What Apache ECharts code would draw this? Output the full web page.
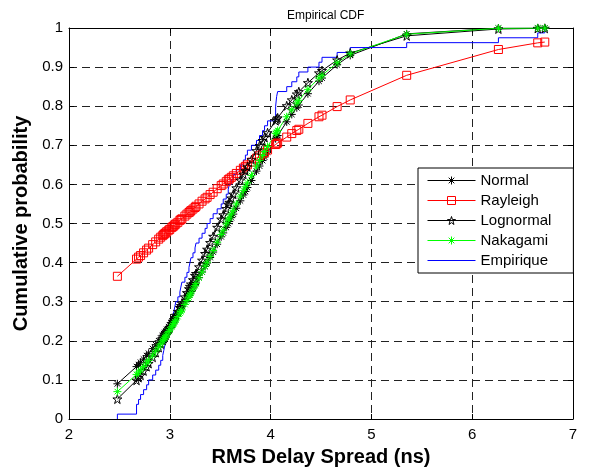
<!DOCTYPE html>
<html>
<head>
<meta charset="utf-8">
<script src="https://cdn.jsdelivr.net/npm/echarts@6/dist/echarts.min.js"></script>
<style>
  html, body { margin: 0; padding: 0; background: #fff; }
  #chart { width: 591px; height: 472px; }
</style>
</head>
<body>
<div id="chart"></div>
<script>
// sorted RMS delay spread samples (ns)
const sampleX = [2.48, 2.67, 2.69, 2.71, 2.74, 2.77, 2.79, 2.83, 2.86, 2.89,
  2.91, 2.93, 2.94, 2.95, 2.96, 2.97, 2.99, 3.00, 3.02, 3.03,
  3.04, 3.05, 3.06, 3.08, 3.10, 3.11, 3.12, 3.15, 3.17, 3.19,
  3.20, 3.21, 3.23, 3.25, 3.26, 3.29, 3.32, 3.35, 3.37, 3.40,
  3.43, 3.47, 3.51, 3.53, 3.56, 3.58, 3.59, 3.61, 3.63, 3.66,
  3.70, 3.73, 3.75, 3.77, 3.81, 3.86, 3.89, 3.92, 3.94, 3.97,
  4.05, 4.06, 4.07, 4.16, 4.21, 4.26, 4.28, 4.37, 4.48, 4.51,
  4.66, 4.79, 5.35, 6.26, 6.65, 6.72];

const empiricalY = [0.0125, 0.0375, 0.05, 0.0625, 0.075, 0.0875, 0.1, 0.1125, 0.125, 0.1375,
  0.15, 0.1625, 0.175, 0.1875, 0.2, 0.2125, 0.225, 0.2375, 0.25, 0.2625,
  0.275, 0.2875, 0.3, 0.3125, 0.325, 0.3375, 0.35, 0.3625, 0.375, 0.3875,
  0.4, 0.4125, 0.425, 0.4375, 0.45, 0.4625, 0.475, 0.4875, 0.5, 0.5125,
  0.525, 0.5375, 0.55, 0.5625, 0.575, 0.5875, 0.6, 0.6125, 0.625, 0.6375,
  0.65, 0.6625, 0.675, 0.6875, 0.7, 0.7125, 0.725, 0.7375, 0.75, 0.7625,
  0.8, 0.825, 0.8375, 0.85, 0.8625, 0.875, 0.8875, 0.9, 0.9125, 0.925,
  0.9375, 0.95, 0.9625, 0.975, 0.9875, 1.0];

const normalY = [0.090, 0.134, 0.139, 0.145, 0.153, 0.162, 0.168, 0.180, 0.190, 0.200,
  0.207, 0.214, 0.218, 0.221, 0.225, 0.229, 0.236, 0.240, 0.247, 0.251,
  0.255, 0.259, 0.263, 0.271, 0.279, 0.283, 0.288, 0.300, 0.309, 0.317,
  0.322, 0.326, 0.335, 0.344, 0.348, 0.362, 0.376, 0.390, 0.399, 0.413,
  0.427, 0.447, 0.466, 0.476, 0.490, 0.500, 0.505, 0.515, 0.524, 0.539,
  0.558, 0.573, 0.582, 0.592, 0.610, 0.634, 0.647, 0.661, 0.670, 0.683,
  0.717, 0.721, 0.725, 0.760, 0.779, 0.796, 0.803, 0.832, 0.864, 0.872,
  0.906, 0.930, 0.985, 0.9995, 0.9999, 0.9999];

const rayleighY = [0.365, 0.409, 0.414, 0.418, 0.425, 0.432, 0.437, 0.446, 0.453, 0.460,
  0.465, 0.469, 0.472, 0.474, 0.476, 0.479, 0.483, 0.485, 0.490, 0.492,
  0.494, 0.497, 0.499, 0.503, 0.508, 0.510, 0.512, 0.519, 0.524, 0.528,
  0.530, 0.533, 0.537, 0.541, 0.544, 0.550, 0.557, 0.563, 0.567, 0.574,
  0.580, 0.589, 0.597, 0.601, 0.607, 0.612, 0.614, 0.618, 0.622, 0.628,
  0.636, 0.642, 0.646, 0.650, 0.657, 0.667, 0.673, 0.678, 0.682, 0.688,
  0.702, 0.704, 0.706, 0.721, 0.730, 0.738, 0.741, 0.756, 0.773, 0.777,
  0.799, 0.816, 0.879, 0.945, 0.962, 0.964];

const lognormalY = [0.051, 0.099, 0.106, 0.112, 0.123, 0.134, 0.142, 0.158, 0.170, 0.183,
  0.192, 0.201, 0.206, 0.210, 0.215, 0.220, 0.230, 0.234, 0.244, 0.249,
  0.254, 0.259, 0.265, 0.275, 0.285, 0.290, 0.296, 0.312, 0.323, 0.333,
  0.339, 0.345, 0.356, 0.367, 0.372, 0.389, 0.406, 0.423, 0.434, 0.451,
  0.467, 0.490, 0.511, 0.522, 0.538, 0.549, 0.554, 0.565, 0.575, 0.591,
  0.611, 0.626, 0.635, 0.645, 0.663, 0.686, 0.699, 0.712, 0.720, 0.732,
  0.763, 0.767, 0.770, 0.801, 0.816, 0.831, 0.837, 0.860, 0.885, 0.891,
  0.918, 0.936, 0.980, 0.9975, 0.999, 0.9992];

const nakagamiY = [0.070, 0.114, 0.120, 0.125, 0.134, 0.143, 0.150, 0.163, 0.174, 0.184,
  0.192, 0.200, 0.204, 0.208, 0.212, 0.215, 0.224, 0.228, 0.236, 0.240,
  0.244, 0.249, 0.253, 0.262, 0.271, 0.275, 0.279, 0.293, 0.303, 0.312,
  0.317, 0.322, 0.332, 0.341, 0.346, 0.361, 0.376, 0.391, 0.401, 0.416,
  0.431, 0.452, 0.472, 0.483, 0.499, 0.509, 0.514, 0.524, 0.534, 0.550,
  0.570, 0.584, 0.594, 0.604, 0.623, 0.647, 0.661, 0.674, 0.684, 0.697,
  0.730, 0.734, 0.738, 0.773, 0.791, 0.808, 0.815, 0.843, 0.872, 0.879,
  0.911, 0.934, 0.984, 0.9992, 0.9998, 0.9998];

const FONT = '"Liberation Sans", Arial, Helvetica, sans-serif';

const asterisk = 'path://M5,0L5,10M0,5L10,5M1.5,1.5L8.5,8.5M1.5,8.5L8.5,1.5';
const pentagram = 'path://M5,0L6.123,3.455L9.755,3.455L6.816,5.59L7.939,9.045L5,6.91L2.061,9.045L3.184,5.59L0.245,3.455L3.877,3.455Z';
const clear = 'rgba(0,0,0,0)';

const pairs = (ys) => sampleX.map((x, i) => [x, ys[i]]);

const fitSeries = (name, ys, color, symbol, size) => ({
  name,
  type: 'line',
  data: pairs(ys),
  symbol,
  symbolSize: size,
  showSymbol: true,
  lineStyle: { color, width: 1 },
  itemStyle: { color: clear, borderColor: color, borderWidth: 1 },
  emphasis: { disabled: true },
});

// no icon given, so the line series draws its own line + marker in the legend
const legendItem = (name, color, border) => ({
  name,
  itemStyle: { color: clear, borderColor: border, borderWidth: 1 },
  lineStyle: { color, width: 1 },
});

const chart = echarts.init(document.getElementById('chart'));

const tickAxis = (extra) => Object.assign({
  type: 'value',
  axisLine: { show: true, onZero: false, lineStyle: { color: '#000', width: 1 } },
  axisTick: { show: true, inside: true, length: 5, lineStyle: { color: '#000' } },
}, extra);

const gridDash = { show: true, lineStyle: { color: '#222', width: 1, type: [8, 5] } };

chart.setOption({
  animation: false,
  textStyle: { fontFamily: FONT },
  title: {
    text: 'Empirical CDF',
    left: 282,
    top: 5,
    textStyle: { fontSize: 12, fontWeight: 'normal', color: '#000', fontFamily: FONT },
  },
  grid: { left: 69, right: 18, top: 28, bottom: 49 },
  legend: {
    orient: 'vertical',
    left: 418,
    top: 168,
    backgroundColor: '#fff',
    borderColor: '#000',
    borderWidth: 1,
    borderRadius: 0,
    padding: [5, 22, 5, 9],
    itemWidth: 48,
    itemHeight: 10,
    itemGap: 5,
    textStyle: { fontSize: 15, color: '#000', fontFamily: FONT },
    data: [
      legendItem('Normal', '#000000', '#000000'),
      legendItem('Rayleigh', '#ff0000', '#ff0000'),
      legendItem('Lognormal', '#000000', '#000000'),
      legendItem('Nakagami', '#00ff00', '#00ff00'),
      legendItem('Empirique', '#0000ff', clear),
    ],
  },
  xAxis: [
    tickAxis({
      min: 2, max: 7, interval: 1, position: 'bottom',
      axisLabel: { fontSize: 15, color: '#000', margin: 8, fontFamily: FONT },
      splitLine: gridDash,
      name: 'RMS Delay Spread (ns)',
      nameLocation: 'middle',
      nameGap: 28,
      nameTextStyle: { fontSize: 20, fontWeight: 'bold', color: '#000', fontFamily: FONT },
    }),
    tickAxis({
      min: 2, max: 7, interval: 1, position: 'top',
      axisLabel: { show: false }, splitLine: { show: false },
    }),
  ],
  yAxis: [
    tickAxis({
      min: 0, max: 1, interval: 0.1, position: 'left',
      axisLabel: { fontSize: 15, color: '#000', margin: 6, fontFamily: FONT },
      splitLine: gridDash,
      name: 'Cumulative probability',
      nameLocation: 'middle',
      nameGap: 38,
      nameTextStyle: { fontSize: 20, fontWeight: 'bold', color: '#000', fontFamily: FONT },
    }),
    tickAxis({
      min: 0, max: 1, interval: 0.1, position: 'right',
      axisLabel: { show: false }, splitLine: { show: false },
    }),
  ],
  series: [
    fitSeries('Normal', normalY, '#000000', asterisk, 8),
    fitSeries('Rayleigh', rayleighY, '#ff0000', 'rect', 8),
    fitSeries('Lognormal', lognormalY, '#000000', pentagram, 9),
    fitSeries('Nakagami', nakagamiY, '#00ff00', asterisk, 8),
    {
      name: 'Empirique',
      type: 'line',
      step: 'end',
      data: [[sampleX[0], 0]].concat(pairs(empiricalY)),
      symbol: 'none',
      lineStyle: { color: '#0000ff', width: 1 },
      itemStyle: { color: '#0000ff' },
      emphasis: { disabled: true },
    },
  ],
});
</script>
</body>
</html>
